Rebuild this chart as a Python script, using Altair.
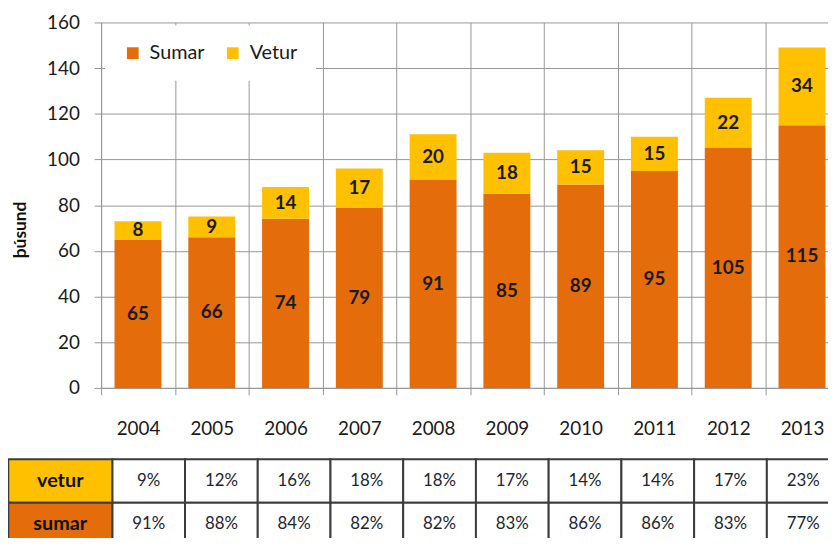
import altair as alt
import pandas as pd

years = ["2004", "2005", "2006", "2007", "2008", "2009", "2010", "2011", "2012", "2013"]
sumar = [65, 66, 74, 79, 91, 85, 89, 95, 105, 115]
vetur = [8, 9, 14, 17, 20, 18, 15, 15, 22, 34]
series_names = ["Sumar", "Vetur"]
vetur_pct = ["9%", "12%", "16%", "18%", "18%", "17%", "14%", "14%", "17%", "23%"]
sumar_pct = ["91%", "88%", "84%", "82%", "82%", "83%", "86%", "86%", "83%", "77%"]
row_labels = ["vetur", "sumar"]
y_ticks = [0, 20, 40, 60, 80, 100, 120, 140, 160]

ORANGE = "#E46C0A"
YELLOW = "#FFC000"
GRID = "#969696"
BORDER = "#3c3c3c"
FONT = "Lato"

PLOT_W = 745   # ten year bands (the picture is cut at the right edge)
PLOT_H = 369
SVG_W = 828
SVG_H = 530
PAD_L = 94
PAD_T = 12

bars_df = pd.DataFrame({
    "year": years * 2,
    "series": [series_names[0]] * len(years) + [series_names[1]] * len(years),
    "value": sumar + vetur,
    "order": [0] * len(years) + [1] * len(years),
})

x_scale = alt.Scale(paddingInner=0, paddingOuter=0)
x_enc = alt.X(
    "year:O", title=None, scale=x_scale,
    axis=alt.Axis(tickBand="extent", labelAngle=0, grid=True, gridColor=GRID,
                  domainColor=GRID, tickColor=GRID, tickSize=7, labelPadding=25,
                  labelFontSize=19, labelFont=FONT, labelColor="#1a1a1a"),
)
y_scale = alt.Scale(domain=[0, 160], nice=False)
y_axis = alt.Axis(values=y_ticks, title="þúsund", grid=True, gridColor=GRID,
                  domainColor=GRID, tickColor=GRID, tickSize=7, labelPadding=15,
                  labelFontSize=19, labelFont=FONT, labelColor="#1a1a1a",
                  titleFont=FONT, titleFontSize=17.5, titleFontWeight="bold",
                  titleColor="#111111", titleX=-81, titleY=209, titleAngle=270,
                  titleAlign="center", titleBaseline="middle")

bars = alt.Chart(bars_df).mark_bar(width=alt.RelativeBandSize(0.636)).encode(
    x=x_enc,
    y=alt.Y("value:Q", stack="zero", scale=y_scale, axis=y_axis),
    color=alt.Color(
        "series:N",
        scale=alt.Scale(domain=series_names, range=[ORANGE, YELLOW]),
        legend=alt.Legend(title=None, orient="none", legendX=4, legendY=3,
                          direction="horizontal", fillColor="white", padding=18,
                          symbolType="square", symbolSize=140, symbolStrokeWidth=0,
                          labelFontSize=20, labelFont=FONT, labelColor="#1a1a1a",
                          labelOffset=7, columnPadding=18),
    ),
    order=alt.Order("order:Q"),
)

labels = alt.Chart(bars_df).transform_stack(
    stack="value", groupby=["year"], as_=["v0", "v1"],
    sort=[alt.SortField("order", order="ascending")],
).transform_calculate(
    mid="(datum.v0 + datum.v1) / 2"
).mark_text(font=FONT, fontWeight="bold", fontSize=19, color="#1a1a1a",
            baseline="middle").encode(
    x=alt.X("year:O", scale=x_scale, axis=None),
    y=alt.Y("mid:Q", scale=y_scale, axis=None),
    text=alt.Text("value:Q"),
)

# ---- table below the plot: column / row indices placed through linear scales ----
n = len(years)
cell_df = pd.DataFrame({
    "col0": list(range(n)) * 2,
    "row0": [0] * n + [1] * n,
    "pct": vetur_pct + sumar_pct,
})
cell_df["col1"] = cell_df["col0"] + 1
cell_df["row1"] = cell_df["row0"] + 1
cell_df["colm"] = cell_df["col0"] + 0.5
cell_df["rowm"] = cell_df["row0"] + 0.5

LABEL_COL = -1.43  # the label column is wider than a year column
label_df = pd.DataFrame({
    "label": row_labels,
    "row0": [0, 1],
    "fill": [YELLOW, ORANGE],
})
label_df["row1"] = label_df["row0"] + 1
label_df["rowm"] = label_df["row0"] + 0.5
label_df["col0"] = LABEL_COL
label_df["col1"] = 0
label_df["colm"] = LABEL_COL / 2

tx_scale = alt.Scale(domain=[0, 10], range=[11.3, 745.7], nice=False, zero=False)
ty_scale = alt.Scale(domain=[0, 2], range=[441, 529], nice=False, zero=False)

tX = lambda f: alt.X(f, type="quantitative", scale=tx_scale, axis=None)
tY = lambda f: alt.Y(f, type="quantitative", scale=ty_scale, axis=None)

cells = alt.Chart(cell_df).mark_rect(fill="white", stroke=BORDER, strokeWidth=2).encode(
    x=tX("col0"), x2="col1", y=tY("row0"), y2="row1")
pct_text = alt.Chart(cell_df).mark_text(font=FONT, fontSize=17, color="#202530").encode(
    x=tX("colm"), y=tY("rowm"), text="pct:N")
lab_cells = alt.Chart(label_df).mark_rect(stroke=BORDER, strokeWidth=2).encode(
    x=tX("col0"), x2="col1", y=tY("row0"), y2="row1",
    fill=alt.Fill("fill:N", scale=None))
lab_text = alt.Chart(label_df).mark_text(font=FONT, fontWeight="bold", fontSize=20,
                                         color="#111111").encode(
    x=tX("colm"), y=tY("rowm"), text="label:N")

chart = alt.layer(bars, labels, cells, pct_text, lab_cells, lab_text).resolve_scale(
    x="independent", y="independent"
).properties(
    width=PLOT_W, height=PLOT_H,
    autosize=alt.AutoSizeParams(type="none"),
    padding={"left": PAD_L, "top": PAD_T,
             "right": SVG_W - PLOT_W - PAD_L,
             "bottom": SVG_H - PLOT_H - PAD_T},
).configure(font=FONT).configure_view(stroke=None)

chart.save("out.html", embed_options={"renderer": "svg", "actions": False})
